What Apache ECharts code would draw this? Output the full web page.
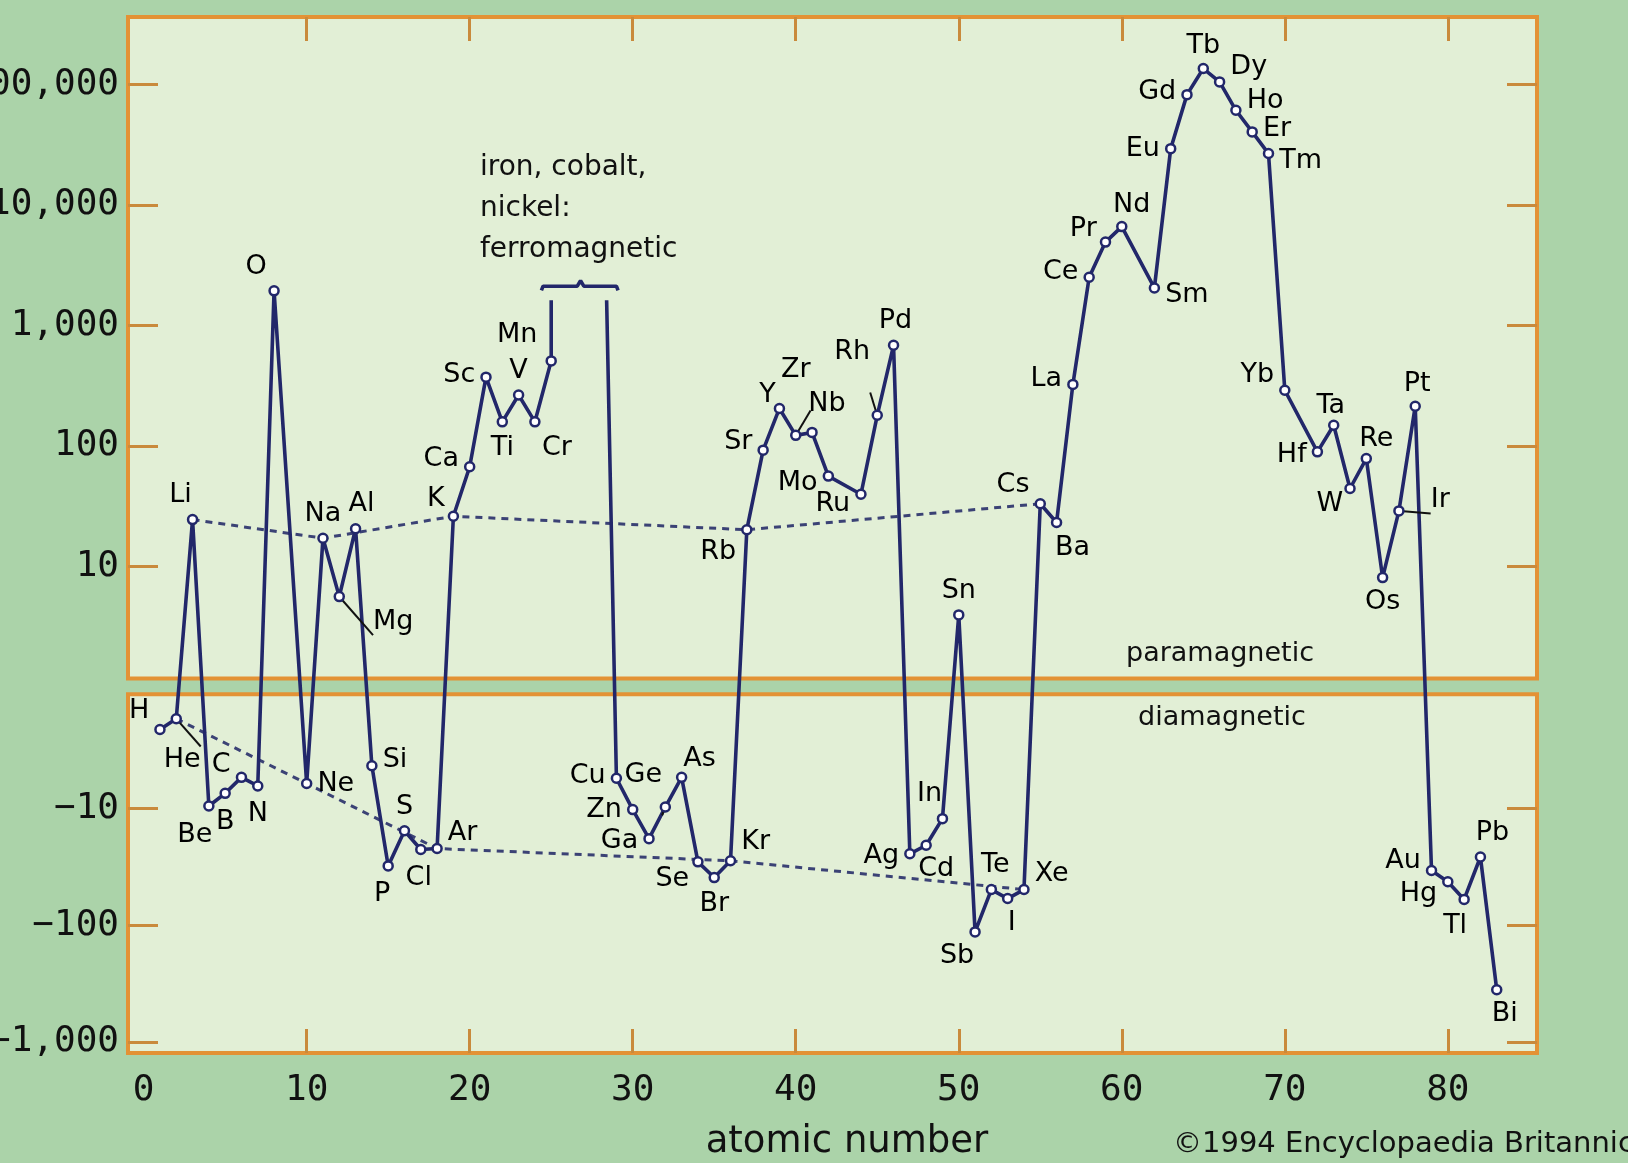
<!DOCTYPE html>
<html><head><meta charset="utf-8">
<script src="https://cdn.jsdelivr.net/npm/echarts@6/dist/echarts.min.js"></script>
<style>html,body{margin:0;padding:0;background:#abd3a9}#c{width:1628px;height:1163px}</style>
</head><body><div id="c"></div>
<script>
// ---------------- data ----------------
const symbols = ['H','He','Li','Be','B','C','N','O','Ne','Na','Mg','Al','Si','P','S','Cl','Ar','K','Ca','Sc','Ti','V','Cr','Mn',
  'Cu','Zn','Ga','Ge','As','Se','Br','Kr','Rb','Sr','Y','Zr','Nb','Mo','Ru','Rh','Pd','Ag','Cd','In','Sn','Sb','Te','I','Xe',
  'Cs','Ba','La','Ce','Pr','Nd','Sm','Eu','Gd','Tb','Dy','Ho','Er','Tm','Yb','Hf','Ta','W','Re','Os','Ir','Pt','Au','Hg','Tl','Pb','Bi'];
const atomicNumbers = [1,2,3,4,5,6,7,8,10,11,12,13,14,15,16,17,18,19,20,21,22,23,24,25,
  29,30,31,32,33,34,35,36,37,38,39,40,41,42,44,45,46,47,48,49,50,51,52,53,54,
  55,56,57,58,59,60,62,63,64,65,66,67,68,69,70,72,73,74,75,76,77,78,79,80,81,82,83];
const susceptibility = [-2.1,-1.7,24.4,-9.5,-7.4,-5.4,-6.4,1930,-6.1,17.1,5.6,20.5,-4.3,-31,-15.5,-22.4,-22,26,67,371,158,264,158,506,
  -5.5,-10.2,-18.1,-9.7,-5.4,-28.6,-39,-28,20.1,92,204,122,129,56,39.6,179,682,-24.4,-20.6,-12.2,3.95,-114,-49.4,-59,-49.4,
  33,23.1,323,2500,4900,6590,2040,29200,82000,135000,104500,60800,40200,26600,289,89,148,44.2,78.3,8.05,28.8,213,-33.9,-42.4,-60,-26,-357];
const alkaliTrend = ['Li','Na','K','Rb','Cs'];
const nobleTrend = ['He','Ne','Ar','Kr','Xe'];
const ferroLeads = [[25, 1610], [28.4, 1610]];          // Fe, Co, Ni run off scale
const ferroBracket = [[24.4,1950],[24.5,2110],[26.6,2110],[26.8,2350],[27.0,2110],[29.0,2110],[29.1,1950]];
const yTickValues = [10,100,1000,10000,100000,-10,-100,-1000];
const xTickValues = [0,10,20,30,40,50,60,70,80];
const xTickMarks = [10,20,30,40,50,60,70,80];

// ---------------- scale mapping (two log panels on one axis) ----------------
const NEG_AT_10 = -1.0108, NEG_SCALE = 0.9685;
function toAxis(v){ return v > 0 ? Math.log10(v) : NEG_AT_10 - NEG_SCALE * (Math.log10(-v) - 1); }
function fromAxis(t){ return t >= -0.001 ? Math.pow(10, t) : -Math.pow(10, 1 + (NEG_AT_10 - t) / NEG_SCALE); }
const Y_MIN = -3.039, Y_MAX = 5.558;
const TOP_PANEL = [0.068, Y_MAX], BOTTOM_PANEL = [Y_MIN, -0.062];
const X_MIN = -0.96, X_MAX = 85.47;

// ---------------- styles ----------------
const LINE = '#22276a', ORANGE = '#e39235', TICK = '#c98a3c', PANEL = '#e2efd6';
const labelStyle = {
  H:['left',0,-18], He:['bottom',6,17], Li:['top',-12,0], Be:['bottom',-14,5], B:['bottom',0,4], C:['left',0,-12], N:['bottom',0,4],
  O:['top',-18,0], Ne:['right',0,0], Na:['top',0,0], Mg:['right',23,25], Al:['top',6,0], Si:['right',0,-6], P:['bottom',-6,4],
  S:['top',0,0], Cl:['bottom',-2,4], Ar:['right',0,-16], K:['left',2,-17], Ca:['left',0,-8], Sc:['left',0,-2], Ti:['bottom',0,2],
  V:['top',0,0], Cr:['bottom',22,2], Mn:['top',-34,-2], Cu:['left',0,-2], Zn:['left',0,0], Ga:['left',0,2], Ge:['top',-22,-8],
  As:['top',18,6], Se:['left',2,17], Br:['bottom',0,2], Kr:['right',0,-19], Rb:['left',0,22], Sr:['left',0,-8], Y:['top',-12,11],
  Zr:['top',0,-41], Nb:['top',15,-4], Mo:['left',0,7], Ru:['left',0,10], Rh:['top',-25,-39], Pd:['top',2,0], Ag:['left',0,2],
  Cd:['bottom',10,0], In:['top',-13,0], Sn:['top',0,0], Sb:['bottom',-18,0], Te:['top',4,0], I:['bottom',4,0], Xe:['right',0,-16],
  Cs:['left',0,-19], Ba:['bottom',16,1], La:['left',0,-5], Ce:['left',0,-5], Pr:['left',2,-13], Nd:['top',10,3], Sm:['right',0,7],
  Eu:['left',0,0], Gd:['left',0,-3], Tb:['top',0,2], Dy:['right',0,-15], Ho:['right',0,-9], Er:['right',0,-3], Tm:['right',0,7],
  Yb:['left',0,-15], Hf:['left',0,3], Ta:['top',-3,5], W:['left',4,15], Re:['top',10,5], Os:['bottom',0,0], Ir:['right',21,-11],
  Pt:['top',2,2], Au:['left',0,-9], Hg:['left',0,12], Tl:['bottom',-9,2], Pb:['top',12,0], Bi:['bottom',8,0]
};
const leaderLabels = ['He','Mg','Ge','Zr','Rh','Ir'];

const entries = symbols.map((s, i) => ({ name: s, z: atomicNumbers[i], v: susceptibility[i] }));
function item(e){
  const ls = labelStyle[e.name] || ['top',0,0];
  const it = { name: e.name, value: [e.z, toAxis(e.v)], label: { position: ls[0], offset: [ls[1], ls[2]] } };
  if (leaderLabels.indexOf(e.name) >= 0) it.labelLine = { show: true, lineStyle: { color: '#111', width: 2 } };
  return it;
}
function capItem(p){ return { value: [p[0], toAxis(p[1])], symbol: 'none', label: { show: false } }; }
const leftData = entries.filter(e => e.z <= 25).map(item).concat([capItem(ferroLeads[0])]);
const rightData = [capItem(ferroLeads[1])].concat(entries.filter(e => e.z >= 29).map(item));
function trend(list){ return list.map(s => { const e = entries.find(x => x.name === s); return [e.z, toAxis(e.v)]; }); }

function fmtTick(t){
  const v = Math.round(fromAxis(t));
  const s = Math.abs(v).toString().replace(/\B(?=(\d{3})+(?!\d))/g, ',');
  return (v < 0 ? '\u2212' : '') + s;
}

const chart = echarts.init(document.getElementById('c'), null, { renderer: 'canvas' });
const mainSeries = (data) => ({
  type: 'line', data: data, z: 4, animation: false,
  lineStyle: { color: LINE, width: 3.6 },
  symbol: 'circle', symbolSize: 9,
  itemStyle: { color: '#ffffff', borderColor: LINE, borderWidth: 2.5 },
  label: { show: true, formatter: '{b}', color: '#000', fontFamily: 'DejaVu Sans', fontSize: 27, distance: 5 },
  labelLine: { show: false },
  emphasis: { disabled: true }
});
const xAxisBase = (pos, showLabel) => ({
  type: 'value', min: X_MIN, max: X_MAX, position: pos, z: 6,
  axisLine: { show: false, onZero: false }, splitLine: { show: false },
  axisTick: { inside: true, length: 24, customValues: xTickMarks, lineStyle: { color: TICK, width: 3 } },
  axisLabel: showLabel ? { customValues: xTickValues, margin: 20, color: '#111', fontFamily: 'DejaVu Sans Mono', fontSize: 36 } : { show: false }
});
const yAxisBase = (pos, showLabel) => ({
  type: 'value', min: Y_MIN, max: Y_MAX, position: pos, z: 6,
  axisLine: { show: false, onZero: false }, splitLine: { show: false },
  axisTick: { inside: true, length: 30, customValues: yTickValues.map(toAxis), lineStyle: { color: TICK, width: 3 } },
  axisLabel: showLabel ? { customValues: yTickValues.map(toAxis), formatter: fmtTick, margin: 9, color: '#111',
    fontFamily: 'DejaVu Sans Mono', fontSize: 36 } : { show: false }
});

chart.setOption({
  backgroundColor: '#abd3a9',
  animation: false,
  grid: { left: 128, right: 91, top: 17, bottom: 110, containLabel: false, outerBoundsMode: 'none' },
  xAxis: [ xAxisBase('bottom', true), xAxisBase('top', false) ],
  yAxis: [ yAxisBase('left', true), yAxisBase('right', false) ],
  series: [
    { type: 'line', data: [], z: 1, clip: false, silent: true,
      markArea: { silent: true,
        itemStyle: { color: PANEL, borderColor: ORANGE, borderWidth: 4 },
        label: { show: false },
        data: [
          [{ xAxis: X_MIN, yAxis: TOP_PANEL[0] }, { xAxis: X_MAX, yAxis: TOP_PANEL[1] }],
          [{ xAxis: X_MIN, yAxis: BOTTOM_PANEL[0] }, { xAxis: X_MAX, yAxis: BOTTOM_PANEL[1] }]
        ] } },
    { type: 'line', data: trend(alkaliTrend), z: 3, symbol: 'none', silent: true,
      lineStyle: { color: '#3b4275', width: 3, type: [7, 6] } },
    { type: 'line', data: trend(nobleTrend), z: 3, symbol: 'none', silent: true,
      lineStyle: { color: '#3b4275', width: 3, type: [7, 6] } },
    mainSeries(leftData),
    mainSeries(rightData),
    { type: 'line', data: ferroBracket.map(p => [p[0], toAxis(p[1])]), z: 4, symbol: 'none', silent: true,
      lineStyle: { color: LINE, width: 3.6 } }
  ],
  graphic: [
    { type: 'text', left: 480, top: 147, z: 10,
      style: { text: 'iron, cobalt,\nnickel:\nferromagnetic', font: '28px "DejaVu Sans"', lineHeight: 41, fill: '#111' } },
    { type: 'text', x: 1220, y: 654, z: 10,
      style: { text: 'paramagnetic', font: '27px "DejaVu Sans"', fill: '#111', align: 'center', verticalAlign: 'middle' } },
    { type: 'text', x: 1222, y: 718, z: 10,
      style: { text: 'diamagnetic', font: '27px "DejaVu Sans"', fill: '#111', align: 'center', verticalAlign: 'middle' } },
    { type: 'text', x: 847, y: 1142, z: 10,
      style: { text: 'atomic number', font: '37px "DejaVu Sans"', fill: '#111', align: 'center', verticalAlign: 'middle' } },
    { type: 'text', x: 1173, y: 1144, z: 10,
      style: { text: '\u00a91994 Encyclopaedia Britannica', font: '29px "DejaVu Sans"', fill: '#111', align: 'left', verticalAlign: 'middle' } }
  ]
});
</script></body></html>
